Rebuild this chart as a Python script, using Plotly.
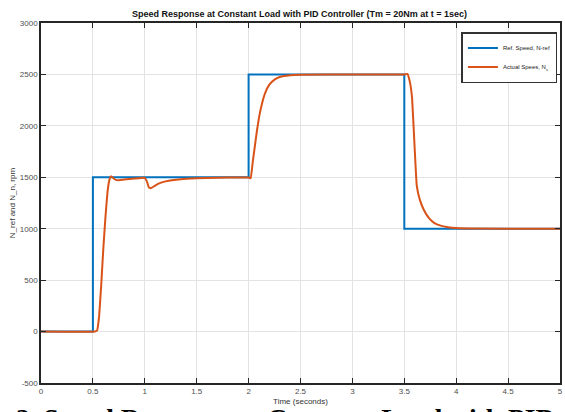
import plotly.graph_objects as go

# Reference speed (step profile)
ref_t = [0, 0.5, 0.5, 2.0, 2.0, 3.5, 3.5, 5.0]
ref_n = [0, 0, 1500, 1500, 2500, 2500, 1000, 1000]

# Actual speed
act_t = [0, 0.52, 0.54, 0.56, 0.58, 0.60, 0.62, 0.64, 0.66, 0.675, 0.70, 0.72, 0.75,
         0.80, 0.90, 1.00, 1.02, 1.04, 1.06, 1.10, 1.15, 1.20, 1.30, 1.40, 1.60, 1.80,
         2.00, 2.02, 2.04, 2.06, 2.08, 2.10, 2.13, 2.16, 2.20, 2.25, 2.30, 2.40, 2.50,
         3.00, 3.50, 3.53, 3.555, 3.575, 3.60, 3.62, 3.65, 3.69, 3.74, 3.79, 3.85, 3.92,
         4.00, 4.20, 5.00]
act_n = [0, 0, 10, 150, 450, 800, 1100, 1350, 1480, 1510, 1490, 1475, 1472,
         1478, 1488, 1495, 1460, 1400, 1395, 1420, 1445, 1460, 1477, 1486, 1493, 1497,
         1498, 1490, 1650, 1800, 1950, 2080, 2220, 2320, 2400, 2450, 2475, 2492, 2497,
         2499, 2500, 2505, 2420, 2270, 1780, 1420, 1280, 1180, 1100, 1055, 1030, 1015,
         1006, 1001, 1000]

x_ticks = [0, 0.5, 1, 1.5, 2, 2.5, 3, 3.5, 4, 4.5, 5]
x_labels = ["0", "0.5", "1", "1.5", "2", "2.5", "3", "3.5", "4", "4.5", "5"]
y_ticks = [-500, 0, 500, 1000, 1500, 2000, 2500, 3000]
y_labels = ["-500", "0", "500", "1000", "1500", "2000", "2500", "3000"]

FONT = "Liberation Sans Narrow, Liberation Sans, Arial, sans-serif"

fig = go.Figure()
fig.add_trace(go.Scatter(x=ref_t, y=ref_n, mode="lines", name="Ref. Speed, N-ref",
                         line=dict(color="#0072BD", width=2)))
fig.add_trace(go.Scatter(x=act_t, y=act_n, mode="lines", name="Actual Spees, N<sub>s</sub>",
                         line=dict(color="#D95319", width=2, shape="spline", smoothing=0.3)))

axis_common = dict(showgrid=True, gridcolor="#e3e3e3", gridwidth=1, showline=True,
                   linecolor="#262626", linewidth=1.5, mirror="ticks", ticks="inside",
                   ticklen=5, tickcolor="#262626", zeroline=False, automargin=False,
                   tickfont=dict(family=FONT, size=8, color="#4d4d4d"))

fig.update_xaxes(range=[0, 5], tickvals=x_ticks, ticktext=x_labels,
                 title=dict(text="Time (seconds)", font=dict(family=FONT, size=8, color="#333333"),
                            standoff=3), **axis_common)
fig.update_yaxes(range=[-500, 3000], tickvals=y_ticks, ticktext=y_labels,
                 title=dict(text="N_ref and N_n, rpm", font=dict(family=FONT, size=8, color="#333333"),
                            standoff=3), **axis_common)

fig.update_layout(
    width=565, height=412,
    margin=dict(l=41, r=5, t=23, b=29, autoexpand=False),
    paper_bgcolor="white", plot_bgcolor="white",
    title=dict(text="<b>Speed Response at Constant Load with PID Controller (Tm = 20Nm at t = 1sec)</b>",
               x=0.53, xanchor="center", y=0.967, yanchor="middle",
               font=dict(family=FONT, size=9, color="#111111")),
    legend=dict(x=0.995, xanchor="right", y=0.975, yanchor="top",
                bgcolor="white", bordercolor="#333333", borderwidth=1.5,
                font=dict(family=FONT, size=6, color="#222222"),
                itemwidth=30, tracegroupgap=0),
    showlegend=True,
)

fig.add_annotation(text="<b>2. Speed Response at Constant Load with PID Controller</b>",
                   xref="paper", yref="paper", x=-0.052, y=-0.05,
                   xanchor="left", yanchor="top", showarrow=False,
                   font=dict(family="Liberation Serif, Times New Roman, serif", size=27.5, color="black"))

fig.write_html("out.html", config={"displayModeBar": False},
               post_script="document.body.style.margin='0';document.body.style.overflow='hidden';")
